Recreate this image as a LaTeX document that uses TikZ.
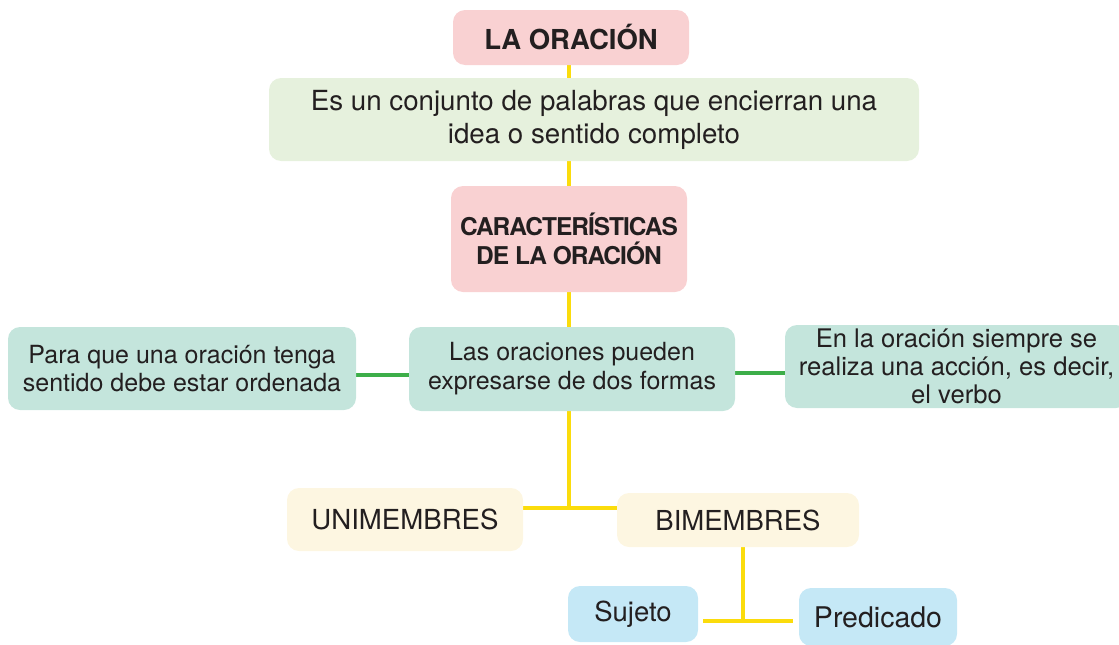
\documentclass[tikz,border=0pt]{standalone}
\usepackage{fontspec}
\setmainfont{TeX Gyre Heros}
\newfontfamily\cbfont[LetterSpace=-4]{TeX Gyre Heros}
\usetikzlibrary{backgrounds}
\definecolor{pinkbox}{HTML}{F9D1D2}
\definecolor{lgreen}{HTML}{E6F1DD}
\definecolor{mint}{HTML}{C4E5DC}
\definecolor{cream}{HTML}{FDF6E1}
\definecolor{lblue}{HTML}{C5E8F6}
\definecolor{yline}{HTML}{FBDC0C}
\definecolor{gline}{HTML}{3DAE49}
\definecolor{txt}{HTML}{231F20}
\tikzset{
  box/.style={rounded corners=12pt, inner sep=0pt, align=center, text=txt},
  yl/.style={draw=yline, line width=4pt},
  gl/.style={draw=gline, line width=3.5pt},
}
\begin{document}
\begin{tikzpicture}[x=1pt,y=-1pt]
\useasboundingbox (0,0) rectangle (1119,645);
\node[box, fill=pinkbox, minimum width=236pt, minimum height=55pt,
  font=\fontsize{27.5}{30}\selectfont\bfseries] (title) at (571,37.5) {LA ORACIÓN};
\node[box, fill=lgreen, minimum width=650pt, minimum height=83pt,
  font=\fontsize{27.7}{33}\selectfont] (def) at (594,119.5)
  {Es un conjunto de palabras que encierran una\\idea o sentido completo};
\node[box, fill=pinkbox, minimum width=236pt, minimum height=106pt,
  font=\fontsize{24.5}{29}\cbfont\bfseries] (car) at (569,239)
  {CARACTERÍSTICAS\\DE LA ORACIÓN};
\node[box, fill=mint, minimum width=348pt, minimum height=83pt,
  font=\fontsize{25}{28.5}\selectfont] (left) at (182,368.5)
  {Para que una oración tenga\\sentido debe estar ordenada};
\node[box, fill=mint, minimum width=326pt, minimum height=84pt,
  font=\fontsize{25}{29}\selectfont] (mid) at (572,369)
  {Las oraciones pueden\\expresarse de dos formas};
\node[box, fill=mint, minimum width=343pt, minimum height=83pt,
  font=\fontsize{25.6}{28}\selectfont] (right) at (956.5,366.5)
  {En la oración siempre se\\realiza una acción, es decir,\\el verbo};
\node[box, fill=cream, minimum width=236pt, minimum height=63pt,
  font=\fontsize{27.6}{30}\selectfont] (uni) at (405,519.5) {UNIMEMBRES};
\node[box, fill=cream, minimum width=242pt, minimum height=54pt,
  font=\fontsize{27.5}{30}\selectfont] (bi) at (738,520) {BIMEMBRES};
\node[box, fill=lblue, minimum width=130pt, minimum height=56pt,
  font=\fontsize{27.5}{30}\selectfont] (suj) at (633,614) {Sujeto};
\node[box, fill=lblue, minimum width=158pt, minimum height=58pt,
  font=\fontsize{28.5}{30}\selectfont] (pred) at (878,617) {Predicado};
\coordinate (j1) at (569,508);
\coordinate (j2) at (743,621);
\begin{pgfonlayer}{background}
\draw[yl] (title.south -| j1) -- (def.north -| j1);
\draw[yl] (def.south -| j1) -- (car.north -| j1);
\draw[yl] (car.south -| j1) -- (mid.north -| j1);
\draw[yl] (mid.south -| j1) -- (j1);
\draw[yl] (uni.east |- j1) -- (bi.west |- j1);
\draw[yl] (bi.south -| j2) -- (j2);
\draw[yl, shorten <=5pt, shorten >=6pt] (suj.east |- j2) -- (pred.west |- j2);
\draw[gl] (left.east |- 0,375) -- (mid.west |- 0,375);
\draw[gl] (mid.east |- 0,373) -- (right.west |- 0,373);
\end{pgfonlayer}
\end{tikzpicture}
\end{document}
